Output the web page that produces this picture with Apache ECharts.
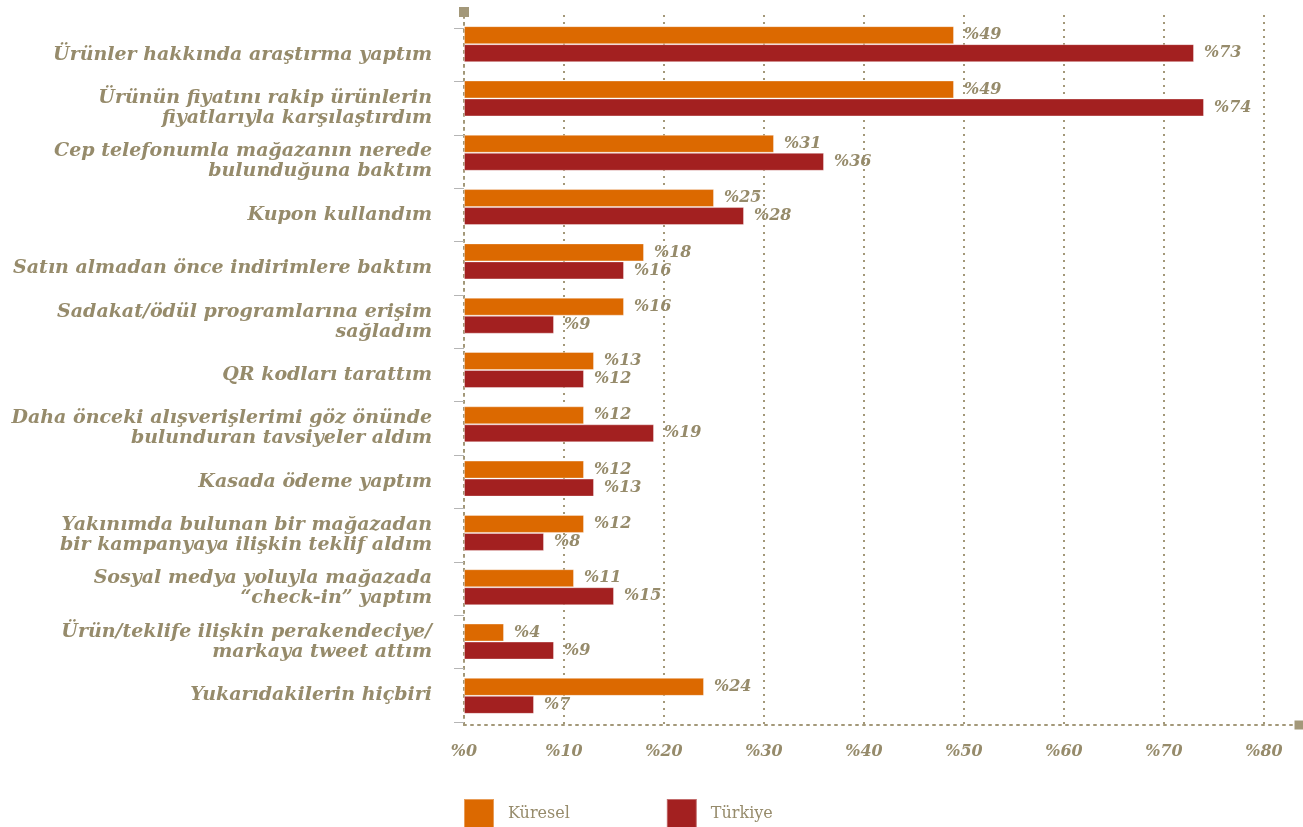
<!DOCTYPE html>
<html>
<head>
<meta charset="utf-8">
<script src="https://cdn.jsdelivr.net/npm/echarts@6/dist/echarts.min.js"></script>
<style>
  html, body { margin: 0; padding: 0; background: #ffffff; }
  #chart { width: 1303px; height: 827px; }
</style>
</head>
<body>
<div id="chart"></div>
<script>
// Survey answers, top to bottom
const categories = [
  'Ürünler hakkında araştırma yaptım',
  'Ürünün fiyatını rakip ürünlerin\nfiyatlarıyla karşılaştırdım',
  'Cep telefonumla mağazanın nerede\nbulunduğuna baktım',
  'Kupon kullandım',
  'Satın almadan önce indirimlere baktım',
  'Sadakat/ödül programlarına erişim\nsağladım',
  'QR kodları tarattım',
  'Daha önceki alışverişlerimi göz önünde\nbulunduran tavsiyeler aldım',
  'Kasada ödeme yaptım',
  'Yakınımda bulunan bir mağazadan\nbir kampanyaya ilişkin teklif aldım',
  'Sosyal medya yoluyla mağazada\n“check-in” yaptım',
  'Ürün/teklife ilişkin perakendeciye/\nmarkaya tweet attım',
  'Yukarıdakilerin hiçbiri'
];
const seriesNames = ['Küresel', 'Türkiye'];
const kuresel = [49, 49, 31, 25, 18, 16, 13, 12, 12, 12, 11, 4, 24];
const turkiye = [73, 74, 36, 28, 16, 9, 12, 19, 13, 8, 15, 9, 7];
const axisMin = 0;
const axisMax = 80;
const axisStep = 10;

const TEXT = '#968b6b';
const DOT = '#a39879';
const SERIF = '"DejaVu Serif", serif';
const dotted = { color: DOT, width: 2, type: [2, 5] };

const valueLabel = {
  show: true,
  position: 'right',
  distance: 10,
  formatter: p => '%' + p.value,
  fontFamily: SERIF,
  fontSize: 16,
  fontWeight: 'bold',
  fontStyle: 'italic',
  color: TEXT
};

const chart = echarts.init(document.getElementById('chart'), null, { renderer: 'canvas' });

chart.setOption({
  animation: false,
  backgroundColor: '#ffffff',
  color: ['#dc6900', '#a32020'],
  legend: {
    data: seriesNames,
    left: 463,
    top: 798,
    padding: 0,
    icon: 'rect',
    itemWidth: 30,
    itemHeight: 30,
    itemGap: 96,
    textStyle: {
      fontFamily: SERIF,
      fontSize: 16,
      color: TEXT,
      padding: [0, 0, 8, 9]
    }
  },
  grid: [
    // bars
    { left: 464, width: 800, top: 17, bottom: 104 },
    // category labels and ticks
    { left: 464, width: 800, top: 28, bottom: 105 },
    // dotted frame and vertical guides
    { left: 464, width: 800, top: 15, bottom: 102 },
    // extended horizontal axis line
    { left: 464, right: 5, top: 15, bottom: 102 }
  ],
  xAxis: [
    {
      gridIndex: 0, type: 'value', min: axisMin, max: axisMax, interval: axisStep,
      axisLine: { show: false }, axisTick: { show: false }, splitLine: { show: false },
      axisLabel: {
        margin: 21,
        formatter: v => '%' + v,
        fontFamily: SERIF, fontSize: 16, fontWeight: 'bold', fontStyle: 'italic', color: TEXT
      }
    },
    { gridIndex: 1, type: 'value', min: axisMin, max: axisMax, show: false },
    {
      gridIndex: 2, type: 'value', min: axisMin, max: axisMax, interval: axisStep,
      axisLine: { show: false }, axisTick: { show: false }, axisLabel: { show: false },
      splitLine: { show: true, lineStyle: dotted }
    },
    {
      gridIndex: 3, type: 'value', min: 0, max: 1,
      axisLine: {
        show: true, onZero: false, lineStyle: dotted,
        symbol: ['none', 'rect'], symbolSize: [9, 9], symbolOffset: [0, 1]
      },
      axisTick: { show: false }, axisLabel: { show: false }, splitLine: { show: false }
    }
  ],
  yAxis: [
    { gridIndex: 0, type: 'category', inverse: true, data: categories, show: false },
    {
      gridIndex: 1, type: 'category', inverse: true, data: categories,
      offset: 7,
      axisLine: { show: false },
      axisTick: { show: true, length: 10, lineStyle: { color: '#b5b5b5', width: 1 } },
      axisLabel: {
        margin: 25,
        fontFamily: SERIF, fontSize: 19, fontWeight: 'bold', fontStyle: 'italic',
        color: TEXT, lineHeight: 20
      }
    },
    {
      gridIndex: 2, type: 'value', min: 0, max: 1,
      axisLine: {
        show: true, onZero: false, lineStyle: dotted,
        symbol: ['none', 'rect'], symbolSize: [10, 10], symbolOffset: [0, 3]
      },
      axisTick: { show: false }, axisLabel: { show: false }, splitLine: { show: false }
    },
    { gridIndex: 3, type: 'value', min: 0, max: 1, show: false }
  ],
  series: [
    {
      name: seriesNames[0], type: 'bar', xAxisIndex: 0, yAxisIndex: 0,
      data: kuresel, barWidth: 18, barGap: '0%',
      itemStyle: { borderColor: 'rgba(255,255,255,0.35)', borderWidth: 1 },
      label: valueLabel
    },
    {
      name: seriesNames[1], type: 'bar', xAxisIndex: 0, yAxisIndex: 0,
      data: turkiye, barWidth: 18, barGap: '0%',
      itemStyle: { borderColor: 'rgba(255,255,255,0.35)', borderWidth: 1 },
      label: valueLabel
    }
  ]
});
</script>
</body>
</html>
